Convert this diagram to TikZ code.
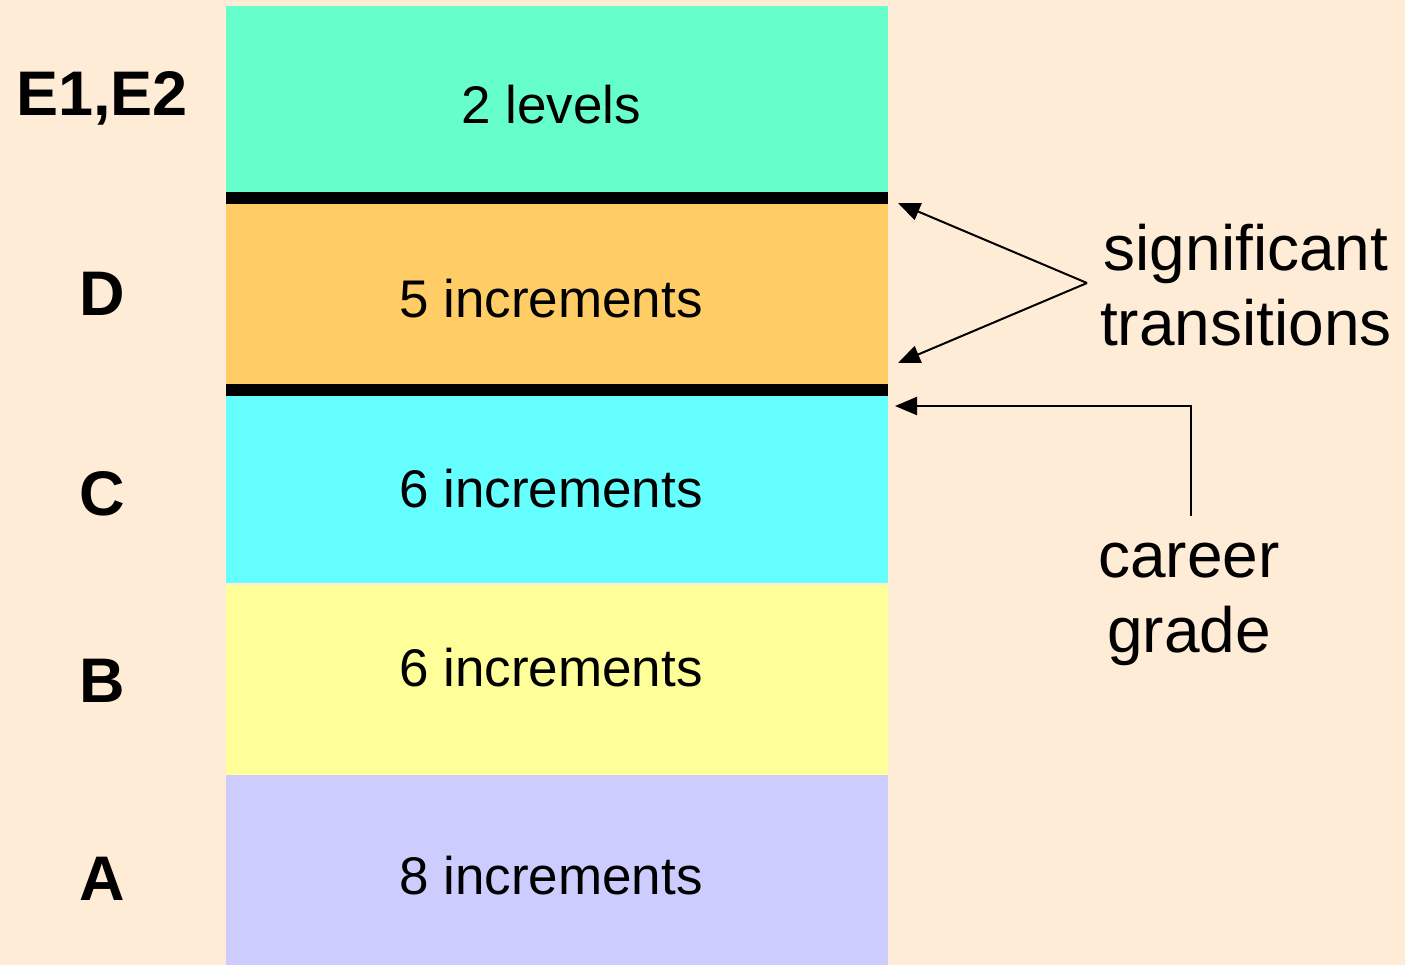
\documentclass[tikz,border=0pt]{standalone}
\usepackage{fontspec}
\setmainfont{Liberation Sans}
\usetikzlibrary{arrows.meta}
\definecolor{bg}{HTML}{FFECD6}
\definecolor{bandE}{HTML}{66FFCC}
\definecolor{bandD}{HTML}{FFCC66}
\definecolor{bandC}{HTML}{66FFFF}
\definecolor{bandB}{HTML}{FFFF99}
\definecolor{bandA}{HTML}{CCCCFF}
\tikzset{
  bandtext/.style={anchor=base, inner sep=0pt, font=\fontsize{26.5pt}{32pt}\selectfont},
  gradelabel/.style={anchor=base, inner sep=0pt, font=\fontsize{31.5pt}{38pt}\selectfont\bfseries},
  sidetext/.style={anchor=base, inner sep=0pt, font=\fontsize{32pt}{37.5pt}\selectfont},
  pointer/.style={line width=1pt, -{Triangle[length=11pt,width=9pt]}},
}
\begin{document}
\begin{tikzpicture}[x=0.5pt,y=-0.5pt]
\useasboundingbox (0,0) rectangle (1405,965);
\fill[bg] (0,0) rectangle (1405,965);
% bands
\fill[bandE] (226,6) rectangle (888,192);
\fill[black] (226,192) rectangle (888,204);
\fill[bandD] (226,204) rectangle (888,384);
\fill[black] (226,384) rectangle (888,396);
\fill[bandC] (226,396) rectangle (888,583);
\fill[bandB] (226,585) rectangle (888,775);
\fill[bandA] (226,775) rectangle (888,965);
% band texts
\node[bandtext] (tE) at (551,123) {2 levels};
\node[bandtext] (tD) at (551,317) {5 increments};
\node[bandtext] (tC) at (551,507) {6 increments};
\node[bandtext] (tB) at (551,686) {6 increments};
\node[bandtext] (tA) at (551,894) {8 increments};
% grade labels
\node[gradelabel] (lE) at (102,115) {E1,E2};
\node[gradelabel] (lD) at (102,315) {D};
\node[gradelabel] (lC) at (102,515) {C};
\node[gradelabel] (lB) at (102,702) {B};
\node[gradelabel] (lA) at (102,900) {A};
% side texts
\node[sidetext] (sig1) at (1246,270) {significant};
\node[sidetext] (sig2) at (1246,345) {transitions};
\node[sidetext] (car1) at (1189,577) {career};
\node[sidetext] (car2) at (1189,652) {grade};
% connectors
\coordinate (apex) at (1087,283);
\coordinate (tipTop) at (898,203);
\coordinate (tipBot) at (898,363);
\coordinate (tipCar) at (895,406);
\coordinate (carStart) at (1191,516);
\draw[pointer] (apex) -- (tipTop);
\draw[pointer] (apex) -- (tipBot);
\draw[pointer] (carStart) |- (tipCar);
\end{tikzpicture}
\end{document}
